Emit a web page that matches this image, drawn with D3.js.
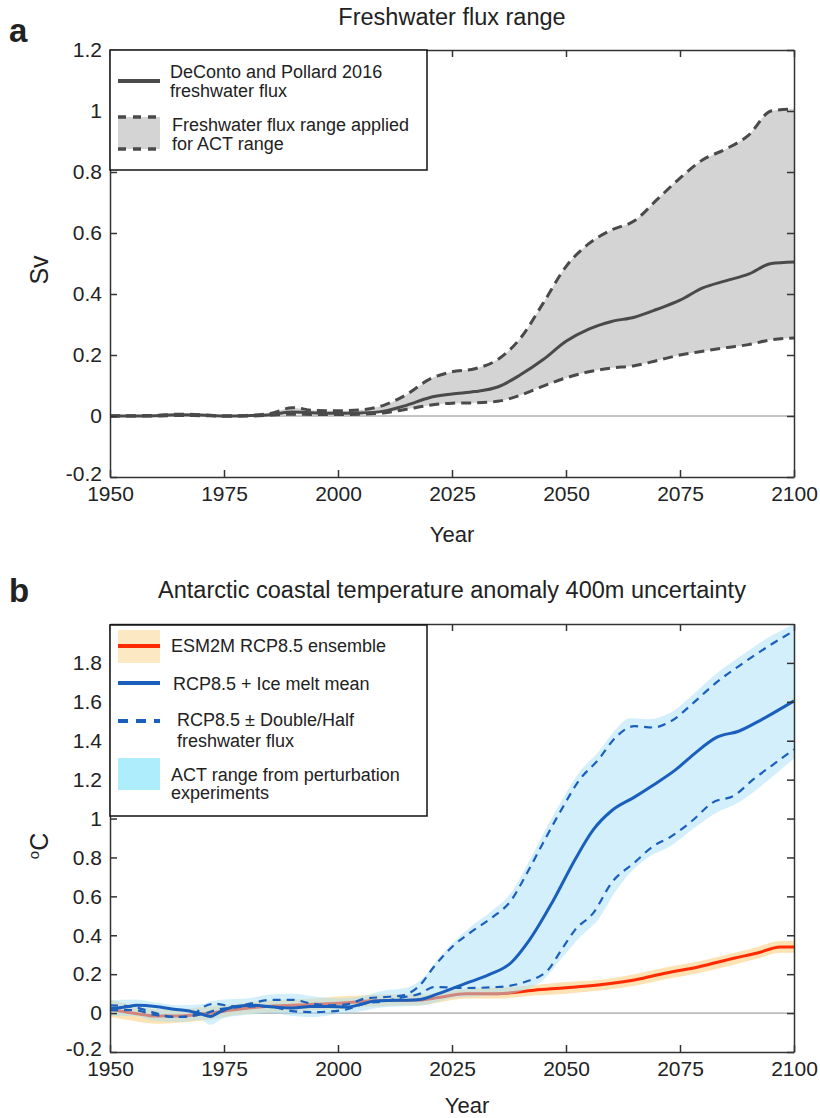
<!DOCTYPE html>
<html>
<head>
<meta charset="utf-8">
<script src="https://cdn.jsdelivr.net/npm/d3@7"></script>
<style>
  body { margin: 0; background: #fff; }
  svg text { font-family: Helvetica, "Liberation Sans", Arial, sans-serif; fill: #222; }
</style>
</head>
<body>
<div id="chart"></div>
<script>
// ---- panel a: freshwater flux (Sv) ----
const fluxYears = [1950, 1955, 1960, 1965, 1970, 1975, 1980, 1985, 1990, 1995, 2000, 2005, 2010, 2015, 2020,
  2025, 2030, 2035, 2040, 2045, 2050, 2055, 2060, 2065, 2070, 2075, 2080, 2085, 2090, 2095, 2100];
const fluxMean = [0, 0, 0.001, 0.004, 0.003, 0, 0.001, 0.004, 0.013, 0.01, 0.009, 0.01, 0.016, 0.035, 0.06,
  0.072, 0.08, 0.095, 0.135, 0.185, 0.245, 0.285, 0.31, 0.324, 0.35, 0.38, 0.42, 0.443, 0.465, 0.5, 0.505];
const fluxHigh = [0, 0.001, 0.002, 0.006, 0.004, 0, 0.002, 0.008, 0.027, 0.018, 0.017, 0.02, 0.035, 0.07, 0.12,
  0.145, 0.155, 0.185, 0.255, 0.37, 0.49, 0.565, 0.61, 0.64, 0.71, 0.78, 0.84, 0.875, 0.92, 1.0, 1.007];
const fluxLow = [0, 0, 0, 0.002, 0.001, 0, 0, 0.002, 0.006, 0.005, 0.005, 0.006, 0.01, 0.022, 0.035,
  0.042, 0.043, 0.048, 0.068, 0.098, 0.125, 0.145, 0.157, 0.165, 0.182, 0.2, 0.212, 0.224, 0.234, 0.25, 0.256];

// ---- panel b: coastal temperature anomaly (degC) ----
const ensYears = [1950, 1955, 1960, 1965, 1970, 1975, 1980, 1985, 1990, 1995, 2000, 2005, 2010, 2015, 2018,
  2022, 2028, 2035, 2043, 2050, 2057, 2065, 2072, 2079, 2087, 2092, 2097, 2100];
const ensMean = [0.02, 0.0, -0.015, -0.015, -0.005, 0.01, 0.025, 0.035, 0.04, 0.045, 0.05, 0.06, 0.065, 0.065, 0.067,
  0.08, 0.10, 0.10, 0.118, 0.13, 0.144, 0.17, 0.206, 0.237, 0.283, 0.309, 0.34, 0.34];
const ensHigh = [0.07, 0.04, 0.02, 0.02, 0.03, 0.04, 0.055, 0.065, 0.07, 0.075, 0.085, 0.09, 0.095, 0.095, 0.095,
  0.105, 0.125, 0.13, 0.145, 0.16, 0.17, 0.2, 0.235, 0.265, 0.31, 0.34, 0.37, 0.37];
const ensLow = [-0.02, -0.04, -0.055, -0.05, -0.04, -0.02, -0.005, 0.005, 0.01, 0.015, 0.02, 0.03, 0.035, 0.04, 0.04,
  0.055, 0.075, 0.075, 0.09, 0.1, 0.115, 0.14, 0.175, 0.205, 0.25, 0.28, 0.31, 0.31];

const meltYears = [1950, 1953, 1956, 1960, 1964, 1967, 1970, 1972, 1974, 1977, 1981, 1986, 1990, 1994, 1998, 2002,
  2005, 2008, 2011, 2015, 2018, 2022, 2028, 2033, 2038, 2042, 2047, 2052, 2056, 2060, 2065, 2069, 2074, 2078,
  2083, 2088, 2093, 2100];
const meltMean = [0.022, 0.03, 0.04, 0.034, 0.02, 0.012, -0.005, -0.017, 0.005, 0.031, 0.04, 0.031, 0.026, 0.034,
  0.034, 0.031, 0.045, 0.062, 0.065, 0.066, 0.07, 0.10, 0.153, 0.196, 0.26, 0.376, 0.57, 0.79, 0.943, 1.04, 1.11,
  1.17, 1.25, 1.33, 1.417, 1.45, 1.51, 1.605];

const doubleYears = [1950, 1955, 1960, 1965, 1968, 1970, 1973, 1977, 1981, 1985, 1990, 1994, 1998, 2002, 2006, 2010,
  2014, 2018, 2021, 2025, 2030, 2034, 2038, 2041, 2045, 2049, 2053, 2057, 2061, 2065, 2069, 2073, 2078, 2083,
  2088, 2094, 2100];
const doubleFlux = [0.014, 0.016, -0.01, -0.02, -0.015, 0.025, 0.048, 0.035, 0.05, 0.068, 0.068, 0.05, 0.04, 0.045,
  0.075, 0.082, 0.09, 0.144, 0.237, 0.34, 0.43, 0.495, 0.58, 0.70, 0.876, 1.046, 1.2, 1.3, 1.42, 1.475, 1.468, 1.5,
  1.596, 1.7, 1.785, 1.88, 1.965];

const halfYears = [1950, 1955, 1960, 1964, 1968, 1971, 1974, 1978, 1982, 1986, 1990, 1994, 1998, 2002, 2006, 2010,
  2014, 2018, 2021, 2028, 2035, 2041, 2046, 2049, 2052, 2056, 2060, 2065, 2069, 2073, 2078, 2082, 2087, 2091,
  2095, 2100];
const halfFlux = [0.04, 0.032, 0.0, -0.02, -0.015, 0.0, 0.02, 0.03, 0.035, 0.03, 0.01, 0.005, 0.008, 0.02, 0.05,
  0.06, 0.08, 0.10, 0.134, 0.129, 0.134, 0.16, 0.22, 0.325, 0.428, 0.515, 0.67, 0.773, 0.856, 0.907, 0.995, 1.08,
  1.12, 1.2, 1.27, 1.356];

const actYears = [1950, 1955, 1960, 1965, 1970, 1972, 1975, 1980, 1985, 1990, 1995, 2000, 2005, 2010, 2015, 2019,
  2022, 2026, 2030, 2034, 2038, 2041, 2045, 2049, 2053, 2057, 2061, 2064, 2068, 2073, 2078, 2083, 2088, 2094, 2100];
const actHigh = [0.065, 0.07, 0.055, 0.04, 0.045, 0.06, 0.07, 0.075, 0.095, 0.1, 0.085, 0.075, 0.085, 0.115, 0.13,
  0.19, 0.28, 0.38, 0.46, 0.53, 0.62, 0.74, 0.92, 1.09, 1.24, 1.34, 1.46, 1.515, 1.51, 1.545, 1.64, 1.745, 1.83,
  1.925, 2.0];
const actLow = [-0.015, -0.015, -0.04, -0.045, -0.035, -0.06, -0.025, -0.01, 0.0, -0.015, -0.02, -0.005, 0.01, 0.03,
  0.035, 0.04, 0.06, 0.08, 0.085, 0.09, 0.1, 0.12, 0.17, 0.28, 0.39, 0.48, 0.63, 0.72, 0.8, 0.86, 0.95, 1.03, 1.085,
  1.19, 1.31];

const yearTicks = [1950, 1975, 2000, 2025, 2050, 2075, 2100];
const fluxTicks = [-0.2, 0, 0.2, 0.4, 0.6, 0.8, 1, 1.2];
const tempTicks = [-0.2, 0, 0.2, 0.4, 0.6, 0.8, 1, 1.2, 1.4, 1.6, 1.8];

const zip = (xs, ys) => xs.map((d, i) => [d, ys[i]]);
const zip3 = (xs, lo, hi) => xs.map((d, i) => [d, lo[i], hi[i]]);
const numFmt = d => String(+d.toFixed(1));

const svg = d3.select("#chart").append("svg")
  .attr("width", 820)
  .attr("height", 1118);

const xA = d3.scaleLinear().domain([1950, 2100]).range([110, 794]);
const yA = d3.scaleLinear().domain([-0.2, 1.2]).range([477, 50]);
const xB = d3.scaleLinear().domain([1950, 2100]).range([110, 794]);
const yB = d3.scaleLinear().domain([-0.2, 2.0]).range([1052, 624]);

function drawFrame(x, y, ticks) {
  const b = y.range()[0], t = y.range()[1], l = x.range()[0], r = x.range()[1];
  const style = g => {
    g.attr("font-size", 21).attr("font-family", null);
    g.selectAll("path, line").attr("stroke", "#333").attr("stroke-width", 1.5);
  };
  svg.append("g").attr("transform", "translate(0," + b + ")")
    .call(d3.axisBottom(x).tickValues(yearTicks).tickSizeInner(-7).tickSizeOuter(0).tickPadding(9).tickFormat(d3.format("d")))
    .call(style);
  svg.append("g").attr("transform", "translate(0," + t + ")")
    .call(d3.axisTop(x).tickValues(yearTicks).tickSizeInner(-7).tickSizeOuter(0).tickFormat(""))
    .call(style);
  svg.append("g").attr("transform", "translate(" + l + ",0)")
    .call(d3.axisLeft(y).tickValues(ticks).tickSizeInner(-7).tickSizeOuter(0).tickPadding(8).tickFormat(numFmt))
    .call(style)
    .call(g => g.selectAll(".tick text").filter(d => d === ticks[0]).attr("y", -3));
  svg.append("g").attr("transform", "translate(" + r + ",0)")
    .call(d3.axisRight(y).tickValues(ticks).tickSizeInner(-7).tickSizeOuter(0).tickFormat(""))
    .call(style);
}

function zeroLine(x, y) {
  svg.append("line")
    .attr("x1", x.range()[0]).attr("x2", x.range()[1])
    .attr("y1", y(0)).attr("y2", y(0))
    .attr("stroke", "#8a8a8a").attr("stroke-width", 1);
}

// ---------------- panel a ----------------
const lineA = d3.line().x(d => xA(d[0])).y(d => yA(d[1])).curve(d3.curveMonotoneX);
const areaA = d3.area().x(d => xA(d[0])).y0(d => yA(d[1])).y1(d => yA(d[2])).curve(d3.curveMonotoneX);

zeroLine(xA, yA);

svg.append("path")
  .attr("d", areaA(zip3(fluxYears, fluxLow, fluxHigh)))
  .attr("fill", "#d4d4d4");

[fluxHigh, fluxLow].forEach(vals => {
  svg.append("path")
    .attr("d", lineA(zip(fluxYears, vals)))
    .attr("fill", "none").attr("stroke", "#4a4a4a")
    .attr("stroke-width", 3).attr("stroke-dasharray", "10,6");
});

svg.append("path")
  .attr("d", lineA(zip(fluxYears, fluxMean)))
  .attr("fill", "none").attr("stroke", "#4a4a4a").attr("stroke-width", 3);

drawFrame(xA, yA, fluxTicks);

// legend a
const legA = svg.append("g");
legA.append("rect").attr("x", 110).attr("y", 50).attr("width", 317).attr("height", 120)
  .attr("fill", "#fff").attr("stroke", "#111").attr("stroke-width", 1.5);
legA.append("line").attr("x1", 118).attr("x2", 160).attr("y1", 81).attr("y2", 81)
  .attr("stroke", "#4a4a4a").attr("stroke-width", 4);
legA.append("rect").attr("x", 118).attr("y", 117).attr("width", 42).attr("height", 32).attr("fill", "#d4d4d4");
[117, 149].forEach(yy => {
  legA.append("line").attr("x1", 118).attr("x2", 160).attr("y1", yy).attr("y2", yy)
    .attr("stroke", "#4a4a4a").attr("stroke-width", 3.5).attr("stroke-dasharray", "8,7");
});
[["DeConto and Pollard 2016", 170, 78], ["freshwater flux", 170, 97],
 ["Freshwater flux range applied", 172, 131], ["for ACT range", 172, 150]].forEach(t => {
  legA.append("text").attr("x", t[1]).attr("y", t[2]).attr("font-size", 18).text(t[0]);
});

svg.append("text").attr("x", 452).attr("y", 25).attr("text-anchor", "middle")
  .attr("font-size", 23.5).text("Freshwater flux range");
svg.append("text").attr("x", 9).attr("y", 42).attr("font-size", 33).attr("font-weight", "bold").text("a");
svg.append("text").attr("transform", "translate(48,270) rotate(-90)").attr("text-anchor", "middle")
  .attr("font-size", 25).text("Sv");
svg.append("text").attr("x", 452).attr("y", 542).attr("text-anchor", "middle")
  .attr("font-size", 22).text("Year");

// ---------------- panel b ----------------
const lineB = d3.line().x(d => xB(d[0])).y(d => yB(d[1])).curve(d3.curveMonotoneX);
const areaB = d3.area().x(d => xB(d[0])).y0(d => yB(d[1])).y1(d => yB(d[2])).curve(d3.curveMonotoneX);

zeroLine(xB, yB);

svg.append("path")
  .attr("d", areaB(zip3(ensYears, ensLow, ensHigh)))
  .attr("fill", "#fde3b3");
svg.append("path")
  .attr("d", lineB(zip(ensYears, ensMean)))
  .attr("fill", "none").attr("stroke", "#ff2a00").attr("stroke-width", 3);

svg.append("path")
  .attr("d", areaB(zip3(actYears, actLow, actHigh)))
  .attr("fill", "#a6e0f7").attr("fill-opacity", 0.5);

[[doubleYears, doubleFlux], [halfYears, halfFlux]].forEach(s => {
  svg.append("path")
    .attr("d", lineB(zip(s[0], s[1])))
    .attr("fill", "none").attr("stroke", "#1b5fbd")
    .attr("stroke-width", 2.2).attr("stroke-dasharray", "8,6");
});

svg.append("path")
  .attr("d", lineB(zip(meltYears, meltMean)))
  .attr("fill", "none").attr("stroke", "#1b5fbd").attr("stroke-width", 3);

drawFrame(xB, yB, tempTicks);

// legend b
const legB = svg.append("g");
legB.append("rect").attr("x", 110).attr("y", 625).attr("width", 317).attr("height", 191)
  .attr("fill", "#fff").attr("stroke", "#111").attr("stroke-width", 1.5);
legB.append("rect").attr("x", 118).attr("y", 630).attr("width", 42).attr("height", 33).attr("fill", "#fde8c4");
legB.append("line").attr("x1", 118).attr("x2", 160).attr("y1", 646).attr("y2", 646)
  .attr("stroke", "#ff2a00").attr("stroke-width", 4);
legB.append("line").attr("x1", 118).attr("x2", 160).attr("y1", 683).attr("y2", 683)
  .attr("stroke", "#1b5fbd").attr("stroke-width", 4);
legB.append("line").attr("x1", 118).attr("x2", 160).attr("y1", 721).attr("y2", 721)
  .attr("stroke", "#1b5fbd").attr("stroke-width", 4).attr("stroke-dasharray", "10,8");
legB.append("rect").attr("x", 118).attr("y", 758).attr("width", 42).attr("height", 32).attr("fill", "#aeedfc");
[["ESM2M RCP8.5 ensemble", 171, 652], ["RCP8.5 + Ice melt mean", 173, 690],
 ["RCP8.5 \u00b1 Double/Half", 177, 726], ["freshwater flux", 177, 747],
 ["ACT range from perturbation", 171, 781], ["experiments", 171, 799]].forEach(t => {
  legB.append("text").attr("x", t[1]).attr("y", t[2]).attr("font-size", 18).text(t[0]);
});

svg.append("text").attr("x", 452).attr("y", 598).attr("text-anchor", "middle")
  .attr("font-size", 23.5).text("Antarctic coastal temperature anomaly 400m uncertainty");
svg.append("text").attr("x", 9).attr("y", 602).attr("font-size", 33).attr("font-weight", "bold").text("b");
const yLabB = svg.append("text").attr("transform", "translate(48,846) rotate(-90)").attr("text-anchor", "middle")
  .attr("font-size", 25);
yLabB.append("tspan").attr("font-size", 15).attr("dy", -9).text("o");
yLabB.append("tspan").attr("dy", 9).text("C");
svg.append("text").attr("x", 467).attr("y", 1113).attr("text-anchor", "middle")
  .attr("font-size", 22).text("Year");
</script>
</body>
</html>
